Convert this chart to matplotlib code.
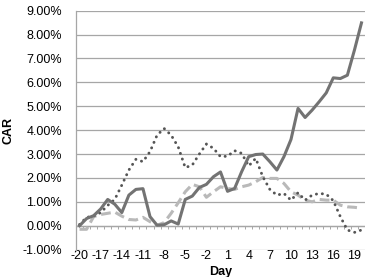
import numpy as np
import matplotlib.pyplot as plt

plt.rcParams['font.family'] = ['Liberation Sans', 'DejaVu Sans']

## Data (CAR in %, day -20 .. 20)
days = np.arange(-20, 21)

car_solid = [0.00, 0.30, 0.42, 0.70, 1.10, 0.90, 0.55, 1.28, 1.52, 1.55,
             0.38, 0.02, 0.04, 0.20, 0.07, 1.10, 1.24, 1.60, 1.73, 2.05,
             2.25, 1.44, 1.56, 2.26, 2.89, 2.98, 3.00, 2.68, 2.33, 2.89,
             3.61, 4.91, 4.53, 4.84, 5.19, 5.56, 6.19, 6.16, 6.30, 7.35,
             8.49]

car_dotted = [0.05, 0.35, 0.40, 0.55, 0.85, 1.10, 1.70, 2.33, 2.78, 2.68,
              3.10, 3.79, 4.07, 3.79, 3.30, 2.43, 2.54, 3.00, 3.42, 3.24,
              2.89, 2.91, 3.14, 3.03, 2.50, 2.82, 2.05, 1.52, 1.28, 1.35,
              1.07, 1.38, 1.07, 1.28, 1.35, 1.32, 1.05, 0.38, -0.18, -0.28,
              -0.18]

car_dashed = [-0.15, -0.15, 0.38, 0.47, 0.52, 0.57, 0.40, 0.26, 0.24, 0.35,
              0.17, 0.02, 0.13, 0.52, 0.96, 1.42, 1.73, 1.63, 1.19, 1.42,
              1.63, 1.56, 1.52, 1.63, 1.70, 1.84, 2.02, 1.98, 1.98, 1.77,
              1.42, 1.28, 1.07, 1.00, 1.10, 1.07, 1.07, 0.86, 0.79, 0.77,
              0.73]

tick_days = days[::3]

fig = plt.figure(figsize=(3.69, 2.77), dpi=100)
ax = fig.add_axes([76/369, 1 - 249.6/277, 289/369, 238.9/277])

grid_col = '#a6a6a6'
for v in range(-1, 10):
    ax.axhline(v, color=grid_col, lw=0.9, zorder=0)

# category axis at 0 with Excel style tick marks between categories
ax.axhline(0, color=grid_col, lw=0.9, zorder=1)
ax.vlines(np.append(days - 0.5, days[-1] + 0.5), -0.13, 0, color=grid_col, lw=0.7, zorder=1)

ax.plot(days, car_dashed, color='#b9b9b9', lw=2.2, dashes=(3.2, 1.6), zorder=2)
ax.plot(days, car_dotted, color='#555555', lw=2.1, linestyle=(0, (0.05, 2.0)),
        dash_capstyle='round', zorder=3)
ax.plot(days, car_solid, color='#737373', lw=2.2, zorder=4)

ax.set_xlim(days[0] - 0.5, days[-1] + 0.5)
ax.set_ylim(-1, 9)
ax.set_yticks(range(-1, 10))
ax.set_yticklabels(['%.2f%%' % v for v in range(-1, 10)])
ax.set_xticks(tick_days)
ax.set_xticklabels([str(d) for d in tick_days])
ax.tick_params(axis='both', length=0, labelsize=9, colors='black')
ax.tick_params(axis='x', pad=0)
ax.tick_params(axis='y', pad=10)

for s in ['top', 'right', 'bottom']:
    ax.spines[s].set_visible(False)
ax.spines['left'].set_color(grid_col)
ax.spines['left'].set_linewidth(0.9)

ax.set_xlabel('Day', fontsize=9, fontweight='bold', labelpad=3)
ax.set_ylabel('CAR', fontsize=9, fontweight='bold', labelpad=6)

fig.savefig('out.png', dpi=100)
